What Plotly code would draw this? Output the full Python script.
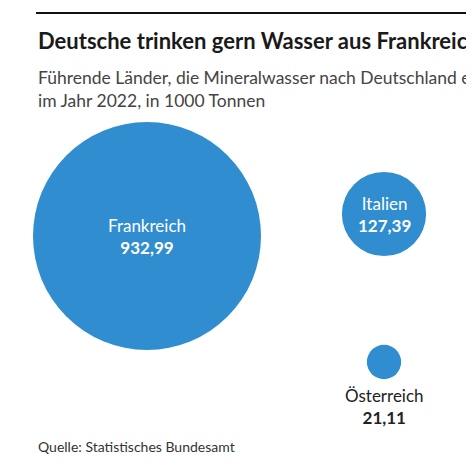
import plotly.graph_objects as go

laender = ['Frankreich', 'Italien', 'Österreich']
werte = [932.99, 127.39, 21.11]
werte_text = ['932,99', '127,39', '21,11']

# placement of bubbles in the canvas (pixel-like coords)
pos_x = [139, 376, 376]
pos_y = [228, 206, 354]

W, H = 474, 463
blau = '#2f8dd0'
max_diam = 228

fig = go.Figure()
fig.add_trace(go.Scatter(
    x=pos_x, y=pos_y, mode='markers',
    marker=dict(size=werte, sizemode='area', sizeref=2 * max(werte) / max_diam ** 2,
                color=blau, opacity=1, line=dict(width=0)),
    hoverinfo='skip'))

for i, (land, txt) in enumerate(zip(laender, werte_text)):
    inside = werte[i] > 50
    fig.add_annotation(
        x=pos_x[i], y=pos_y[i] + (0 if inside else 44), xref='x', yref='y',
        text=f'{land}<br><b>{txt}</b>', showarrow=False,
        font=dict(family='Lato', size=17, color='white' if inside else '#222'),
        align='center')

fig.add_annotation(x=28, y=32, xref='x', yref='y', xanchor='left', showarrow=False,
                   text='<b>Deutsche trinken gern Wasser aus Frankreich</b>',
                   font=dict(family='Lato', size=22, color='#1a1a1a'))
fig.add_annotation(x=28, y=81, xref='x', yref='y', xanchor='left', showarrow=False, align='left',
                   text='Führende Länder, die Mineralwasser nach Deutschland exportieren,<br>im Jahr 2022, in 1000 Tonnen',
                   font=dict(family='Lato', size=17.5, color='#444'))
fig.add_annotation(x=28, y=438, xref='x', yref='y', xanchor='left', showarrow=False,
                   text='Quelle: Statistisches Bundesamt',
                   font=dict(family='Lato', size=14, color='#333'))
fig.add_shape(type='line', x0=28, x1=W, y0=5, y1=5, xref='x', yref='y',
              line=dict(color='#111', width=2))

fig.update_xaxes(range=[0, W], visible=False)
fig.update_yaxes(range=[H, 0], visible=False)
fig.update_layout(width=W, height=H, margin=dict(l=0, r=0, t=0, b=0),
                  plot_bgcolor='white', paper_bgcolor='white', showlegend=False)
fig.write_html('out.html')
